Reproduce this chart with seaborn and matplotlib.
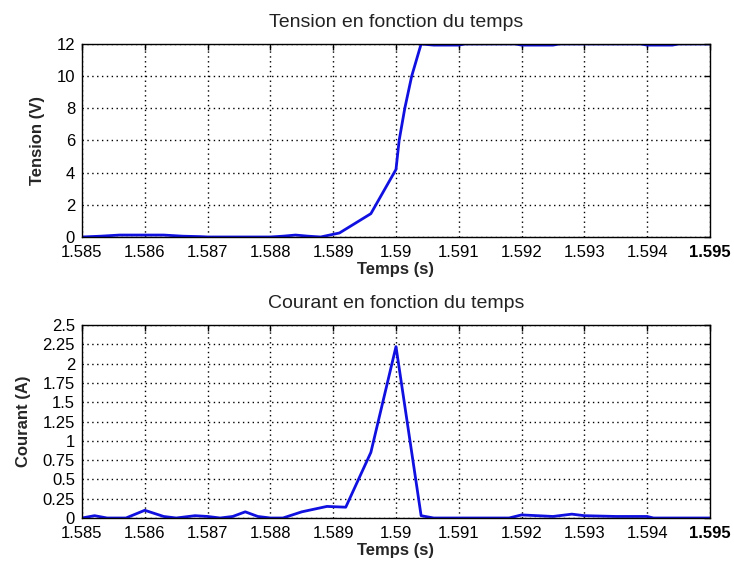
import numpy as np
import pandas as pd
import matplotlib
matplotlib.use("Agg")
import matplotlib.pyplot as plt
import seaborn as sns
from matplotlib.ticker import FuncFormatter

# --- data ---
t_tension = [1.5850, 1.5853, 1.5856, 1.5860, 1.5863, 1.5866, 1.5869, 1.5870, 1.5880,
             1.5882, 1.5884, 1.5886, 1.5888, 1.5891, 1.5896, 1.5900, 1.59005, 1.59014,
             1.59025, 1.5904, 1.5906, 1.5910, 1.5911, 1.5919, 1.5920, 1.5925, 1.5926,
             1.5939, 1.5940, 1.5944, 1.5945, 1.5950]
tension = [0.0, 0.05, 0.12, 0.12, 0.12, 0.05, 0.02, 0.0, 0.0,
           0.05, 0.12, 0.05, 0.0, 0.25, 1.45, 4.2, 6.0, 8.0,
           10.0, 12.0, 11.93, 11.93, 12.0, 12.0, 11.93, 11.93, 12.0,
           12.0, 11.93, 11.93, 12.0, 12.0]

t_courant = [1.5850, 1.5852, 1.5854, 1.5857, 1.5860, 1.5863, 1.5865, 1.5868, 1.5870,
             1.5872, 1.5874, 1.5876, 1.5878, 1.5880, 1.5882, 1.5885, 1.5889, 1.5892,
             1.5896, 1.5900, 1.5904, 1.5906, 1.5918, 1.5920, 1.5925, 1.5928, 1.5930,
             1.5935, 1.5940, 1.5941, 1.5950]
courant = [0.0, 0.03, 0.0, 0.0, 0.1, 0.02, 0.0, 0.03, 0.02,
           0.0, 0.02, 0.08, 0.02, 0.0, 0.0, 0.08, 0.15, 0.14,
           0.85, 2.22, 0.03, 0.0, 0.0, 0.04, 0.02, 0.05, 0.03,
           0.02, 0.02, 0.0, 0.0]

x_ticks = [1.585, 1.586, 1.587, 1.588, 1.589, 1.590, 1.591, 1.592, 1.593, 1.594, 1.595]
y_ticks_tension = [0, 2, 4, 6, 8, 10, 12]
y_ticks_courant = [0, 0.25, 0.5, 0.75, 1, 1.25, 1.5, 1.75, 2, 2.25, 2.5]

titles = ["Tension en fonction du temps", "Courant en fonction du temps"]
ylabels = ["Tension (V)", "Courant (A)"]
xlabel = "Temps (s)"

sns.set_theme(style="white")
plt.rcParams['font.family'] = ['Liberation Sans', 'DejaVu Sans']

fig = plt.figure(figsize=(7.34, 5.66), dpi=100)
ax1 = fig.add_axes([0.1117, 0.5813, 0.8556, 0.3410])
ax2 = fig.add_axes([0.1117, 0.0848, 0.8556, 0.3410])

df1 = pd.DataFrame({"t": t_tension, "v": tension})
df2 = pd.DataFrame({"t": t_courant, "v": courant})

for ax, df, yt, title, yl in [(ax1, df1, y_ticks_tension, titles[0], ylabels[0]),
                              (ax2, df2, y_ticks_courant, titles[1], ylabels[1])]:
    sns.lineplot(data=df, x="t", y="v", ax=ax, color="#1010e0", linewidth=2.0,
                 estimator=None, sort=False)
    ax.set_xlim(1.585, 1.595)
    ax.set_ylim(yt[0], yt[-1])
    ax.set_xticks(x_ticks)
    ax.set_yticks(yt)
    ax.xaxis.set_major_formatter(FuncFormatter(lambda v, p: f"{v:g}"))
    ax.yaxis.set_major_formatter(FuncFormatter(lambda v, p: f"{v:g}"))
    ax.grid(True, color="black", linestyle=(0, (1, 2.5)), linewidth=1.0)
    ax.tick_params(direction="in", length=4, width=1, colors="black",
                   labelsize=12, top=True, right=True)
    ax.tick_params(axis="x", pad=6)
    ax.tick_params(axis="y", pad=5)
    for s in ax.spines.values():
        s.set_color("black")
        s.set_linewidth(1.0)
    ax.set_title(title, fontsize=14, pad=12, color="#222222")
    ax.set_ylabel(yl, fontsize=12, fontweight="bold", labelpad=8)
    ax.set_xlabel(xlabel, fontsize=12, fontweight="bold", labelpad=1)
    labs = ax.get_xticklabels()
    labs[-1].set_fontweight("bold")
    ax.set_facecolor("white")

fig.savefig("out.png", dpi=100, facecolor="white")
